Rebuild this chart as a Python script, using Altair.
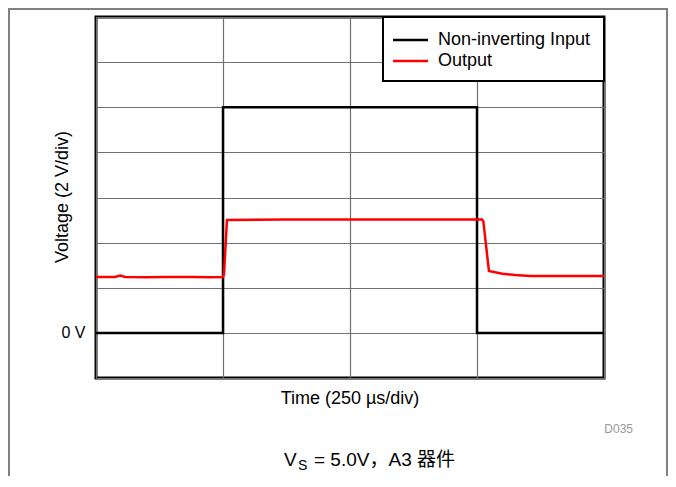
import altair as alt
import pandas as pd

FONT = "Liberation Sans, Arial, Helvetica, sans-serif"
CJK_FONT = "Liberation Sans, Noto Sans CJK SC, sans-serif"

# ---- data (time in divisions of 250 us, voltage in divisions of 2 V) ----
series_names = ["Non-inverting Input", "Output"]
series_colors = ["black", "red"]

input_t = [0.0, 1.0, 1.0, 3.0, 3.0, 4.0]
input_v = [0.0, 0.0, 5.0, 5.0, 0.0, 0.0]

output_t = [0.0, 0.15, 0.19, 0.23, 0.4, 0.55, 0.75, 0.9, 1.0, 1.008, 1.031, 1.5, 2.0, 2.5,
            3.04, 3.05, 3.094, 3.2, 3.3, 3.42, 3.6, 3.8, 4.0]
output_v = [1.24, 1.24, 1.27, 1.24, 1.23, 1.24, 1.24, 1.23, 1.24, 1.30, 2.50, 2.51, 2.51, 2.51,
            2.51, 2.47, 1.37, 1.31, 1.28, 1.26, 1.26, 1.26, 1.26]

x_grid = [0, 1, 2, 3, 4]
y_grid = [-1, 0, 1, 2, 3, 4, 5, 6, 7]

x_title = ["Time (250 \u00b5s/div)"]
y_title = ["Voltage (2 V/div)"]
fig_id = ["D035"]
caption_parts = ["V", "S", "= 5.0V\uff0cA3 \u5668\u4ef6"]

rows = []
for i, (t, v) in enumerate(zip(input_t, input_v)):
    rows.append({"t": t, "v": v, "series": series_names[0], "i": i})
for i, (t, v) in enumerate(zip(output_t, output_v)):
    rows.append({"t": t, "v": v, "series": series_names[1], "i": i})
df = pd.DataFrame(rows)

PW, PH = 508, 361

lines = alt.Chart(df).mark_line(strokeWidth=2.5, strokeJoin="miter", clip=True).encode(
    x=alt.X("t:Q", scale=alt.Scale(domain=[0, 4], nice=False, zero=False),
            axis=alt.Axis(values=x_grid, grid=True, labels=False, ticks=False, domain=False, title=None)),
    y=alt.Y("v:Q", scale=alt.Scale(domain=[-1, 7], nice=False, zero=False),
            axis=alt.Axis(values=y_grid, grid=True, ticks=False, domain=False, title=None,
                          labelExpr="datum.value == 0 ? '0 V' : ''",
                          labelFontSize=16, labelFont=FONT, labelColor="black", labelPadding=11)),
    color=alt.Color("series:N",
                    scale=alt.Scale(domain=series_names, range=series_colors),
                    legend=None),
    order=alt.Order("i:Q"),
)

one = alt.Data(values=[{}])

# ---- legend (drawn as marks, from the series lists) ----
LX0, LX1, LY0, LY1 = 287, 508, 0, 64
leg_box = alt.Chart(one).mark_rect(fill="white", stroke="black", strokeWidth=2).encode(
    x=alt.value(LX0), x2=alt.value(LX1), y=alt.value(LY0), y2=alt.value(LY1))
leg_layers = [leg_box]
for k, (name, col) in enumerate(zip(series_names, series_colors)):
    yy = 23 + 21 * k
    leg_layers.append(alt.Chart(one).mark_rule(color=col, strokeWidth=2.5).encode(
        x=alt.value(297), x2=alt.value(332), y=alt.value(yy)))
    leg_layers.append(alt.Chart(pd.DataFrame({"label": [name]})).mark_text(
        fontSize=18, font=FONT, color="black", align="left", baseline="middle"
    ).encode(text="label:N", x=alt.value(342), y=alt.value(yy)))

xt = alt.Chart(pd.DataFrame({"label": x_title})).mark_text(
    fontSize=18, font=FONT, color="black", align="center", baseline="middle"
).encode(text="label:N", x=alt.value(254), y=alt.value(382))

yt = alt.Chart(pd.DataFrame({"label": y_title})).mark_text(
    fontSize=18, font=FONT, color="black", align="center", baseline="middle", angle=270
).encode(text="label:N", x=alt.value(-33), y=alt.value(180))

fid = alt.Chart(pd.DataFrame({"label": fig_id})).mark_text(
    fontSize=12, font=FONT, color="#9a9a9a", align="right", baseline="middle"
).encode(text="label:N", x=alt.value(537), y=alt.value(412))

CAP_Y = 443
cap_v = alt.Chart(pd.DataFrame({"label": [caption_parts[0]]})).mark_text(
    fontSize=19, font=FONT, color="black", align="left", baseline="middle"
).encode(text="label:N", x=alt.value(188), y=alt.value(CAP_Y))
cap_s = alt.Chart(pd.DataFrame({"label": [caption_parts[1]]})).mark_text(
    fontSize=14, font=FONT, color="black", align="left", baseline="middle"
).encode(text="label:N", x=alt.value(202), y=alt.value(CAP_Y + 6))
cap_r = alt.Chart(pd.DataFrame({"label": [caption_parts[2]]})).mark_text(
    fontSize=19, font=CJK_FONT, color="black", align="left", baseline="middle"
).encode(text="label:N", x=alt.value(218), y=alt.value(CAP_Y))

# page frame lines (decoration around the figure)
frame_l = alt.Chart(one).mark_rule(color="#808080", strokeWidth=2).encode(
    x=alt.value(-87), y=alt.value(-9), y2=alt.value(480))
frame_r = alt.Chart(one).mark_rule(color="#808080", strokeWidth=2).encode(
    x=alt.value(571), y=alt.value(-9), y2=alt.value(480))
frame_t = alt.Chart(one).mark_rule(color="#808080", strokeWidth=2).encode(
    x=alt.value(-88), x2=alt.value(572), y=alt.value(-8))

chart = alt.layer(lines, *leg_layers, xt, yt, fid, cap_v, cap_s, cap_r,
                  frame_l, frame_r, frame_t).properties(
    width=PW, height=PH,
    autosize=alt.AutoSizeParams(type="none"),
    padding={"left": 88, "top": 9, "right": 64, "bottom": 98},
    background="white",
).configure_view(stroke="black", strokeWidth=3).configure_axis(
    gridColor="#707070", gridWidth=1.2
)

chart.save("out.html", embed_options={"renderer": "svg", "actions": False})
